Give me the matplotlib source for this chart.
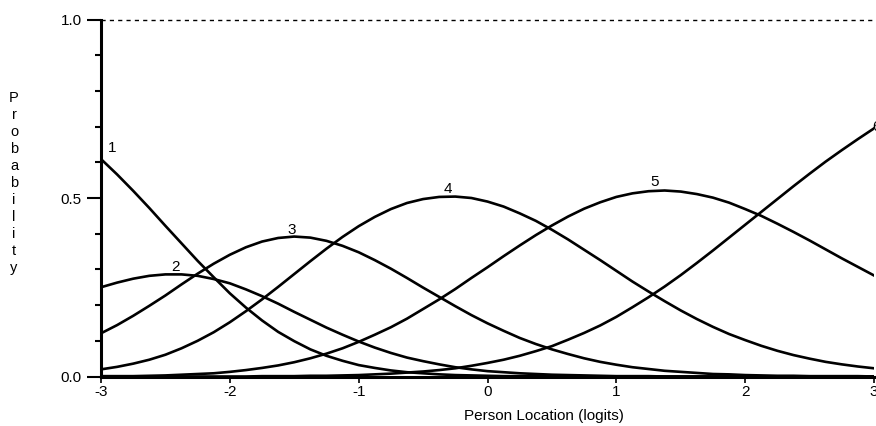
import matplotlib
matplotlib.use("Agg")
import matplotlib.pyplot as plt
from matplotlib.ticker import MultipleLocator

plt.rcParams['font.family'] = ['Liberation Sans', 'DejaVu Sans']

# person location (logits)
location = [-3.0, -2.875, -2.75, -2.625, -2.5, -2.375, -2.25, -2.125, -2.0, -1.875,
            -1.75, -1.625, -1.5, -1.375, -1.25, -1.125, -1.0, -0.875, -0.75, -0.625,
            -0.5, -0.375, -0.25, -0.125, 0.0, 0.125, 0.25, 0.375, 0.5, 0.625,
            0.75, 0.875, 1.0, 1.125, 1.25, 1.375, 1.5, 1.625, 1.75, 1.875,
            2.0, 2.125, 2.25, 2.375, 2.5, 2.625, 2.75, 2.875, 3.0]

# category probability curves
cat1 = [0.609, 0.566, 0.520, 0.472, 0.422, 0.373, 0.324, 0.278, 0.233, 0.193,
        0.157, 0.125, 0.099, 0.076, 0.058, 0.044, 0.032, 0.024, 0.017, 0.012,
        0.009, 0.006, 0.004, 0.003, 0.002, 0.001, 0.001, 0.001, 0.000, 0.000,
        0.000, 0.000, 0.000, 0.000, 0.000, 0.000, 0.000, 0.000, 0.000, 0.000,
        0.000, 0.000, 0.000, 0.000, 0.000, 0.000, 0.000, 0.000, 0.000]
cat2 = [0.250, 0.263, 0.274, 0.282, 0.286, 0.286, 0.282, 0.273, 0.261, 0.244,
        0.225, 0.204, 0.181, 0.159, 0.137, 0.117, 0.098, 0.081, 0.066, 0.053,
        0.043, 0.034, 0.026, 0.020, 0.015, 0.012, 0.009, 0.007, 0.005, 0.004,
        0.003, 0.002, 0.001, 0.001, 0.001, 0.000, 0.000, 0.000, 0.000, 0.000,
        0.000, 0.000, 0.000, 0.000, 0.000, 0.000, 0.000, 0.000, 0.000]
cat3 = [0.121, 0.144, 0.170, 0.198, 0.227, 0.258, 0.288, 0.316, 0.341, 0.362,
        0.378, 0.388, 0.392, 0.389, 0.380, 0.366, 0.348, 0.326, 0.302, 0.276,
        0.249, 0.223, 0.197, 0.172, 0.149, 0.128, 0.108, 0.091, 0.076, 0.063,
        0.051, 0.041, 0.033, 0.026, 0.021, 0.016, 0.013, 0.010, 0.007, 0.006,
        0.004, 0.003, 0.002, 0.002, 0.001, 0.001, 0.001, 0.001, 0.000]
cat4 = [0.020, 0.027, 0.036, 0.047, 0.061, 0.079, 0.100, 0.124, 0.152, 0.183,
        0.216, 0.251, 0.287, 0.323, 0.358, 0.391, 0.421, 0.447, 0.469, 0.486,
        0.497, 0.503, 0.504, 0.500, 0.490, 0.476, 0.457, 0.436, 0.411, 0.384,
        0.355, 0.326, 0.296, 0.266, 0.238, 0.211, 0.185, 0.161, 0.139, 0.119,
        0.102, 0.086, 0.072, 0.060, 0.050, 0.041, 0.034, 0.028, 0.023]
cat5 = [0.001, 0.001, 0.001, 0.002, 0.003, 0.005, 0.007, 0.009, 0.013, 0.018,
        0.024, 0.031, 0.040, 0.051, 0.064, 0.079, 0.097, 0.117, 0.138, 0.162,
        0.189, 0.216, 0.245, 0.276, 0.306, 0.337, 0.367, 0.396, 0.423, 0.448,
        0.470, 0.488, 0.503, 0.513, 0.519, 0.521, 0.518, 0.511, 0.501, 0.487,
        0.469, 0.450, 0.428, 0.405, 0.381, 0.356, 0.331, 0.307, 0.283]
cat6 = [0.000, 0.000, 0.000, 0.000, 0.000, 0.000, 0.000, 0.000, 0.000, 0.000,
        0.001, 0.001, 0.001, 0.002, 0.002, 0.003, 0.004, 0.006, 0.008, 0.011,
        0.014, 0.018, 0.023, 0.030, 0.038, 0.047, 0.058, 0.071, 0.085, 0.103,
        0.122, 0.143, 0.167, 0.194, 0.222, 0.252, 0.284, 0.318, 0.353, 0.389,
        0.425, 0.461, 0.497, 0.533, 0.568, 0.602, 0.634, 0.665, 0.695]

curves = [cat1, cat2, cat3, cat4, cat5, cat6]
labels = ["1", "2", "3", "4", "5", "6"]
label_x = [-2.91, -2.42, -1.52, -0.31, 1.30, 3.02]
label_y = [0.640, 0.307, 0.410, 0.526, 0.545, 0.700]

fig = plt.figure(figsize=(8.76, 4.26), dpi=100)
ax = fig.add_axes([101 / 876, 49.5 / 426, 773 / 876, 357 / 426])

for c in curves:
    ax.plot(location, c, color="black", lw=1.9, solid_joinstyle="round")

for lab, lx, ly in zip(labels, label_x, label_y):
    ax.text(lx, ly, lab, fontsize=11, ha="center", va="center", clip_on=False)

ax.axhline(1.0, color="black", lw=1.0, ls=(0, (3, 3)), clip_on=False)

ax.set_xlim(-3, 3)
ax.set_ylim(0, 1)
ax.set_xticks([-3, -2, -1, 0, 1, 2, 3])
ax.set_xticklabels(["-3", "-2", "-1", "0", "1", "2", "3"], fontsize=11)
ax.set_yticks([0.0, 0.5, 1.0])
ax.set_yticklabels(["0.0", "0.5", "1.0"], fontsize=11)
ax.yaxis.set_minor_locator(MultipleLocator(0.1))

ax.tick_params(axis="y", which="major", direction="out", length=10, width=1.5, pad=4)
ax.tick_params(axis="y", which="minor", direction="out", length=4, width=1.5)
ax.tick_params(axis="x", which="major", direction="out", length=4, width=1.2, pad=2)

ax.spines["top"].set_visible(False)
ax.spines["right"].set_visible(False)
ax.spines["left"].set_linewidth(2.2)
ax.spines["bottom"].set_linewidth(2.2)

fig.text(544 / 876, 1 - 416 / 426, "Person Location (logits)", fontsize=11,
         ha="center", va="center")
fig.text(14 / 876, 1 - 183 / 426, "\n".join("Probability"), fontsize=10.5,
         ha="center", va="center", linespacing=1.27)

fig.savefig("out.png", dpi=100)
